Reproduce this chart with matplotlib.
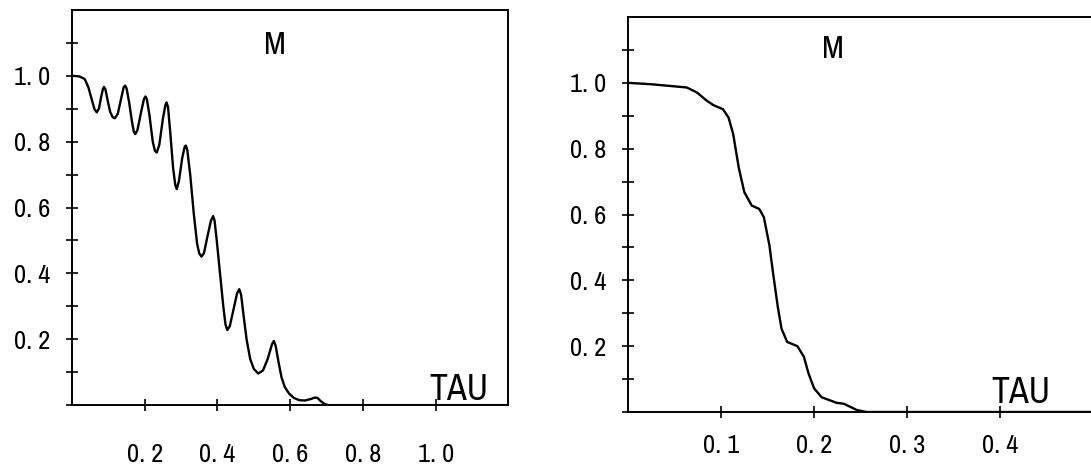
import numpy as np
import matplotlib
matplotlib.use("Agg")
import matplotlib.pyplot as plt
from matplotlib import font_manager

# left panel: damped oscillating decay of M vs TAU
tau_left = [0.000, 0.020, 0.035, 0.045, 0.055, 0.062, 0.068, 0.074, 0.080, 0.085,
            0.088, 0.092, 0.098, 0.105, 0.112, 0.118, 0.126, 0.135, 0.142, 0.146,
            0.150, 0.157, 0.165, 0.170, 0.174, 0.180, 0.190, 0.198, 0.202, 0.206,
            0.213, 0.222, 0.228, 0.233, 0.240, 0.250, 0.257, 0.260, 0.264, 0.270,
            0.278, 0.284, 0.288, 0.294, 0.303, 0.310, 0.313, 0.317, 0.325, 0.335,
            0.344, 0.350, 0.356, 0.363, 0.372, 0.382, 0.388, 0.392, 0.398, 0.407,
            0.416, 0.422, 0.427, 0.434, 0.444, 0.454, 0.460, 0.465, 0.472, 0.480,
            0.490, 0.500, 0.512, 0.525, 0.538, 0.550, 0.555, 0.560, 0.568, 0.576,
            0.585, 0.597, 0.610, 0.625, 0.640, 0.655, 0.668, 0.675, 0.684, 0.694,
            0.705, 1.200]
m_left = [1.000, 0.998, 0.990, 0.965, 0.925, 0.898, 0.889, 0.900, 0.935, 0.960,
          0.966, 0.958, 0.925, 0.890, 0.874, 0.871, 0.885, 0.930, 0.965, 0.970,
          0.962, 0.920, 0.860, 0.830, 0.823, 0.835, 0.890, 0.930, 0.937, 0.928,
          0.880, 0.800, 0.772, 0.767, 0.790, 0.870, 0.912, 0.919, 0.905, 0.830,
          0.720, 0.668, 0.656, 0.680, 0.750, 0.785, 0.788, 0.775, 0.700, 0.580,
          0.490, 0.460, 0.451, 0.462, 0.510, 0.560, 0.574, 0.560, 0.500, 0.400,
          0.300, 0.245, 0.228, 0.240, 0.290, 0.340, 0.352, 0.335, 0.270, 0.200,
          0.140, 0.110, 0.096, 0.105, 0.140, 0.185, 0.195, 0.180, 0.130, 0.085,
          0.055, 0.035, 0.022, 0.015, 0.014, 0.018, 0.023, 0.022, 0.012, 0.004,
          0.000, 0.000]

# right panel: stepwise decay
tau_right = [0.000, 0.024, 0.063, 0.074, 0.085, 0.092, 0.102, 0.108, 0.113, 0.119,
             0.125, 0.133, 0.141, 0.146, 0.152, 0.156, 0.161, 0.165, 0.171, 0.182,
             0.189, 0.194, 0.200, 0.208, 0.224, 0.232, 0.246, 0.256, 0.500]
m_right = [1.000, 0.996, 0.986, 0.971, 0.945, 0.932, 0.920, 0.895, 0.845, 0.743,
           0.668, 0.627, 0.617, 0.592, 0.506, 0.420, 0.319, 0.253, 0.213, 0.200,
           0.168, 0.117, 0.072, 0.045, 0.028, 0.025, 0.006, 0.000, 0.000]

left_xticks = [0.2, 0.4, 0.6, 0.8, 1.0]
left_xlabels = ["0. 2", "0. 4", "0. 6", "0. 8", "1. 0"]
right_xticks = [0.1, 0.2, 0.3, 0.4]
right_xlabels = ["0. 1", "0. 2", "0. 3", "0. 4"]
yticks_major = [0.2, 0.4, 0.6, 0.8, 1.0]
ylabels = ["0. 2", "0. 4", "0. 6", "0. 8", "1. 0"]

# the plotter lettering is narrow; use a condensed face if one is installed
fam, stretch = 'DejaVu Sans', 'normal'
for f in font_manager.fontManager.ttflist:
    if 'Narrow' in f.name:
        fam, stretch = f.name, 'normal'
        break
    if 'Condensed' in f.fname and f.name == 'DejaVu Sans':
        fam, stretch = 'DejaVu Sans', 'condensed'
plt.rcParams['font.family'] = [fam]
plt.rcParams['font.stretch'] = stretch

fig = plt.figure(figsize=(10.91, 4.70), dpi=100)
ax1 = fig.add_axes([0.066, 0.138, 0.400, 0.841])
ax2 = fig.add_axes([0.5756, 0.1234, 0.4265, 0.8404])


def style(ax, xmax, xticks, xlabels, xpad):
    ax.set_xlim(0, xmax)
    ax.set_ylim(0, 1.2)
    for s in ax.spines.values():
        s.set_linewidth(1.4)
    ax.set_xticks(xticks)
    ax.set_xticklabels(xlabels)
    ax.set_yticks(yticks_major)
    ax.set_yticklabels(ylabels)
    ax.set_yticks(np.arange(0.0, 1.15, 0.1), minor=True)
    ax.tick_params(axis='y', which='both', direction='inout', length=9, width=1.2,
                   labelsize=19, pad=11)
    ax.tick_params(axis='x', which='both', direction='inout', length=9, width=1.2,
                   labelsize=19, pad=xpad)


ax1.plot(tau_left, m_left, color='black', lw=1.7)
style(ax1, 1.2, left_xticks, left_xlabels, 23)
ax1.text(0.558, 1.094, "M", fontsize=23, ha='center', va='center')
ax1.text(1.063, 0.046, "TAU", fontsize=26, ha='center', va='center')

ax2.plot(tau_right, m_right, color='black', lw=1.7)
style(ax2, 0.5, right_xticks, right_xlabels, 11)
ax2.text(0.220, 1.103, "M", fontsize=23, ha='center', va='center')
ax2.text(0.4226, 0.058, "TAU", fontsize=26, ha='center', va='center')

fig.savefig("out.png", dpi=100)
